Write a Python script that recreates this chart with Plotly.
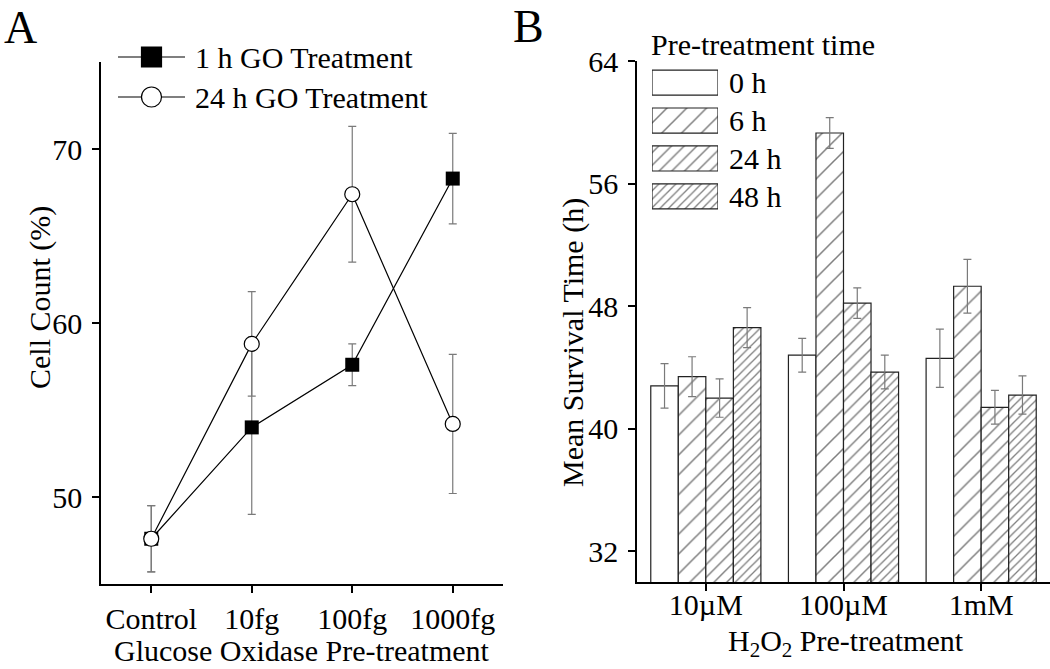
import plotly.graph_objects as go

# ---------------- data ----------------
# Panel A
categories_a = ["Control", "10fg", "100fg", "1000fg"]
one_h = [47.6, 54.0, 57.6, 68.3]
one_h_err = [1.9, 5.0, 1.2, 2.6]
tf_h = [47.6, 58.8, 67.4, 54.2]
tf_h_err = [1.9, 3.0, 3.9, 4.0]
legend_a_names = ["1 h GO Treatment", "24 h GO Treatment"]

# Panel B
conc = ["10µM", "100µM", "1mM"]
series_b = ["0 h", "6 h", "24 h", "48 h"]
h0 = [42.8, 44.8, 44.6]
h0_err = [1.45, 1.1, 1.9]
h6 = [43.4, 59.3, 49.3]
h6_err = [1.3, 1.0, 1.75]
h24 = [42.0, 48.2, 41.4]
h24_err = [1.25, 1.0, 1.1]
h48 = [46.6, 43.7, 42.2]
h48_err = [1.3, 1.1, 1.25]
yticks_a = [50, 60, 70]
yticks_b = [32, 40, 48, 56, 64]

# ---------------- styling ----------------
W, H = 1050, 669
FONT = "Liberation Serif"
FS = 30
ERRC = "#7a7a7a"


def px(x):
    return x / W


def py(y):
    return 1 - y / H


patterns = [
    dict(shape="", size=8, solidity=0.1),
    dict(shape="/", size=14, solidity=0.11),
    dict(shape="/", size=9, solidity=0.16),
    dict(shape="/", size=6, solidity=0.22),
]

fig = go.Figure()

# Panel A lines
fig.add_trace(go.Scatter(
    x=categories_a, y=one_h, mode="lines+markers",
    error_y=dict(type="data", array=one_h_err, color=ERRC, thickness=1.2, width=4),
    line=dict(color="black", width=1.2),
    marker=dict(symbol="square", size=14, color="black"),
    xaxis="x", yaxis="y", showlegend=False, name=legend_a_names[0]))
fig.add_trace(go.Scatter(
    x=categories_a, y=tf_h, mode="lines+markers",
    error_y=dict(type="data", array=tf_h_err, color=ERRC, thickness=1.2, width=4),
    line=dict(color="black", width=1.2),
    marker=dict(symbol="circle", size=15, color="white", line=dict(color="black", width=1.2)),
    xaxis="x", yaxis="y", showlegend=False, name=legend_a_names[1]))

# Panel B bars
vals_b = [h0, h6, h24, h48]
errs_b = [h0_err, h6_err, h24_err, h48_err]
for name, v, e, p in zip(series_b, vals_b, errs_b, patterns):
    fig.add_trace(go.Bar(
        x=conc, y=v, name=name,
        error_y=dict(type="data", array=e, color=ERRC, thickness=1.2, width=4),
        marker=dict(color="white", line=dict(color="#222", width=1.2),
                    pattern=dict(shape=p["shape"], size=p["size"], solidity=p["solidity"],
                                 fgcolor="#000", bgcolor="white")),
        xaxis="x2", yaxis="y2", showlegend=False))

# Custom legend B (hatched boxes)
fig.add_trace(go.Bar(
    y=series_b, x=[1] * len(series_b), orientation="h", width=0.66,
    marker=dict(color="white", line=dict(color="#222", width=1.2),
                pattern=dict(shape=[p["shape"] for p in patterns],
                             size=[p["size"] for p in patterns],
                             solidity=[p["solidity"] for p in patterns],
                             fgcolor="#000", bgcolor="white")),
    xaxis="x3", yaxis="y3", showlegend=False, hoverinfo="skip"))

# Custom legend A (line + marker samples)
legend_rows = [0, 1]
for row, sym, fill in zip(legend_rows, ["square", "circle"], ["black", "white"]):
    fig.add_trace(go.Scatter(x=[0, 1], y=[row, row], mode="lines",
                             line=dict(color="black", width=1.2),
                             xaxis="x4", yaxis="y4", showlegend=False, hoverinfo="skip"))
    fig.add_trace(go.Scatter(x=[0.5], y=[row], mode="markers",
                             marker=dict(symbol=sym, size=20, color=fill,
                                         line=dict(color="black", width=1.2)),
                             xaxis="x4", yaxis="y4", showlegend=False, hoverinfo="skip"))

axis_common = dict(showline=True, linecolor="black", linewidth=1.6, ticks="outside",
                   ticklen=7, tickwidth=1.5, tickcolor="black", showgrid=False,
                   zeroline=False, automargin=False,
                   tickfont=dict(family=FONT, size=FS, color="black"))
hidden = dict(visible=False, automargin=False, showgrid=False, zeroline=False)

annotations = [
    dict(text="A", x=px(2), y=py(27), xanchor="left", yanchor="middle",
         font=dict(size=46)),
    dict(text="B", x=px(511), y=py(26), xanchor="left", yanchor="middle",
         font=dict(size=46)),
    dict(text="Cell Count (%)", x=px(40), y=py(298), textangle=-90,
         xanchor="center", yanchor="middle"),
    dict(text="Glucose Oxidase Pre-treatment", x=px(302), y=py(650),
         xanchor="center", yanchor="middle"),
    dict(text="Mean Survival Time (h)", x=px(573), y=py(343), textangle=-90,
         xanchor="center", yanchor="middle"),
    dict(text="H<sub>2</sub>O<sub>2</sub> Pre-treatment", x=px(846), y=py(643),
         xanchor="center", yanchor="middle"),
    dict(text="Pre-treatment time", x=px(649), y=py(45), xanchor="left",
         yanchor="middle"),
]
legend_b_y = [82.5, 120.5, 158.5, 196]
for name, yy in zip(series_b, legend_b_y):
    annotations.append(dict(text=name, x=px(727), y=py(yy), xanchor="left", yanchor="middle"))
for name, yy in zip(legend_a_names, [57, 97]):
    annotations.append(dict(text=name, x=px(193), y=py(yy), xanchor="left", yanchor="middle"))
for a in annotations:
    a.update(xref="paper", yref="paper", showarrow=False)
    f = a.get("font", {})
    f.setdefault("size", FS)
    f.update(family=FONT, color="black")
    a["font"] = f

fig.update_layout(
    width=W, height=H, autosize=False,
    margin=dict(l=0, r=0, t=0, b=0, pad=0, autoexpand=False),
    paper_bgcolor="white", plot_bgcolor="white",
    font=dict(family=FONT, size=FS, color="black"),
    barmode="group", bargap=0.2, bargroupgap=0,
    xaxis=dict(domain=[px(101), px(503)], anchor="y", type="category",
               range=[-0.5, 3.5], **axis_common),
    yaxis=dict(domain=[py(584), py(62)], anchor="x", range=[45, 75],
               tickvals=yticks_a, ticklabelstandoff=4, **axis_common),
    xaxis2=dict(domain=[px(637), 1.0], anchor="y2", type="category",
                range=[-0.5, 2.5], ticklabelstandoff=-12, **axis_common),
    yaxis2=dict(domain=[py(582), py(61)], anchor="x2", range=[30, 64],
                tickvals=yticks_b, ticklabelstandoff=4, **axis_common),
    xaxis3=dict(domain=[px(652), px(718)], anchor="y3", range=[0, 1], **hidden),
    yaxis3=dict(domain=[py(215.4), py(63.6)], anchor="x3", type="category",
                range=[3.5, -0.5], **hidden),
    xaxis4=dict(domain=[px(118), px(185)], anchor="y4", range=[0, 1], **hidden),
    yaxis4=dict(domain=[py(117), py(37)], anchor="x4", range=[1.5, -0.5], **hidden),
    annotations=annotations,
    showlegend=False,
)

fig.write_html("out.html", config={"displayModeBar": False},
               post_script="document.body.style.margin='0';document.body.style.overflow='hidden';")
